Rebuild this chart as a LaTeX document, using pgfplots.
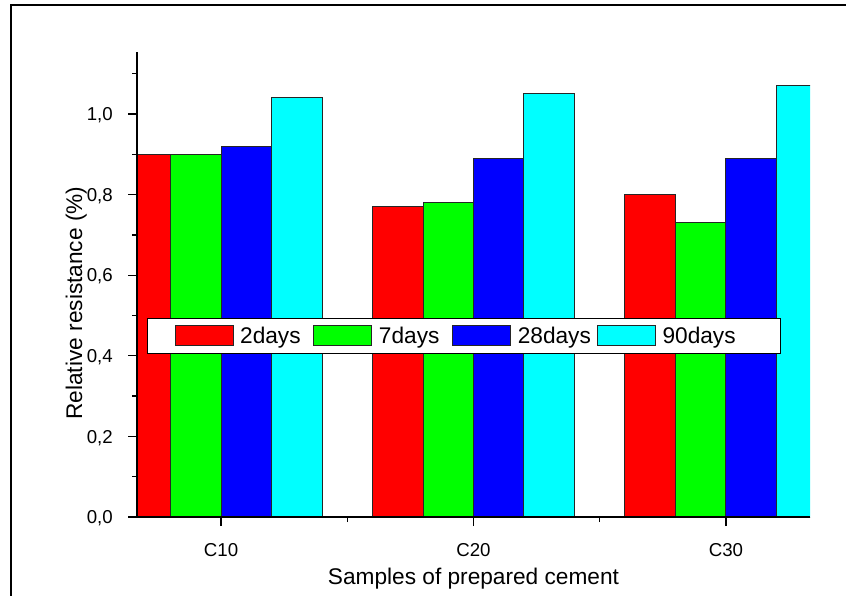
\documentclass[border=0pt]{standalone}
\usepackage{fontspec}
\setmainfont{Liberation Sans}
\usepackage{pgfplots}
\pgfplotsset{compat=1.18}
\definecolor{cC}{RGB}{0,255,255}
\definecolor{cG}{RGB}{0,255,0}
\definecolor{cB}{RGB}{0,0,255}
\definecolor{cR}{RGB}{255,0,0}
\pgfplotsset{frameaxis/.style={
  at={(102.75pt,-387.75pt)}, anchor=south west,
  scale only axis, width=504.75pt, height=348.75pt,
  xmin=-0.333, xmax=2.333, ymin=0, ymax=1.154,
  axis x line=bottom, axis y line=left,
  axis line style={-, line width=1pt},
  tick align=outside,
  tick style={black, line width=1pt}}}
\begin{document}
\begin{tikzpicture}
\useasboundingbox (0,0) rectangle (634.5pt,-447pt);
\draw[line width=1.1pt] (8.25pt,-447pt) -- (8.25pt,-3.75pt) -- (634.5pt,-3.75pt);
\begin{axis}[
  frameaxis,
  axis on top,
  xtick={0,1,2}, xticklabels={C10,C20,C30}, minor xtick={0.5,1.5},
  ytick={0,0.2,0.4,0.6,0.8,1.0}, minor ytick={0.1,0.3,0.5,0.7,0.9,1.1},
  major tick length=6.75pt, minor tick length=3.75pt,
  tick label style={font=\fontsize{14}{16}\selectfont},
  xticklabel style={anchor=base, yshift=-22.5pt},
  yticklabel style={/pgf/number format/use comma, /pgf/number format/fixed,
    /pgf/number format/fixed zerofill, /pgf/number format/precision=1,
    /pgf/number format/assume math mode=true,
    anchor=base east, inner sep=0pt, xshift=-11.25pt, yshift=-5pt},
  label style={font=\fontsize{17}{20}\selectfont},
  xlabel={Samples of prepared cement},
  xlabel style={at={(axis description cs:0.5,-0.146)}, anchor=base},
  ylabel={Relative resistance (\%)},
  ylabel style={at={(axis description cs:-0.0817,0.46)}, anchor=base},
  legend columns=4,
  legend image code/.code={\draw[#1, line width=0.75pt] (0pt,-7.5pt) rectangle (43.5pt,7.5pt);},
  legend style={at={(axis description cs:0.01486,0.428)}, anchor=north west,
    draw=black, line width=0.75pt, font=\fontsize{17}{20}\selectfont,
    inner xsep=20.25pt, inner ysep=4.2pt,
    nodes={inner sep=2pt},
    /tikz/every odd column/.append style={column sep=3pt},
    /tikz/column 2/.append style={column sep=7.5pt},
    /tikz/column 4/.append style={column sep=7.5pt},
    /tikz/column 6/.append style={column sep=2.5pt}},
]
\addplot[ybar, bar width=0.2, bar shift=0pt, fill=cR, draw=black!85, line width=0.75pt]
  coordinates {(-0.3,0.90) (0.7,0.77) (1.7,0.80)};
\addplot[ybar, bar width=0.2, bar shift=0pt, fill=cG, draw=black!85, line width=0.75pt]
  coordinates {(-0.1,0.90) (0.9,0.78) (1.9,0.73)};
\addplot[ybar, bar width=0.2, bar shift=0pt, fill=cB, draw=black!85, line width=0.75pt]
  coordinates {(0.1,0.92) (1.1,0.89) (2.1,0.89)};
\addplot[ybar, bar width=0.2, bar shift=0pt, fill=cC, draw=black!85, line width=0.75pt]
  coordinates {(0.3,1.04) (1.3,1.05) (2.3,1.07)};
\legend{2days,7days,28days,90days\rule{11.25pt}{0pt}}
\end{axis}
\begin{axis}[
  frameaxis,
  xtick=\empty, ytick=\empty,
  minor xtick={0,1,2}, minor ytick={0,0.2,0.4,0.6,0.8,1.0},
  minor tick length=6.75pt,
]
\end{axis}
\end{tikzpicture}
\end{document}
